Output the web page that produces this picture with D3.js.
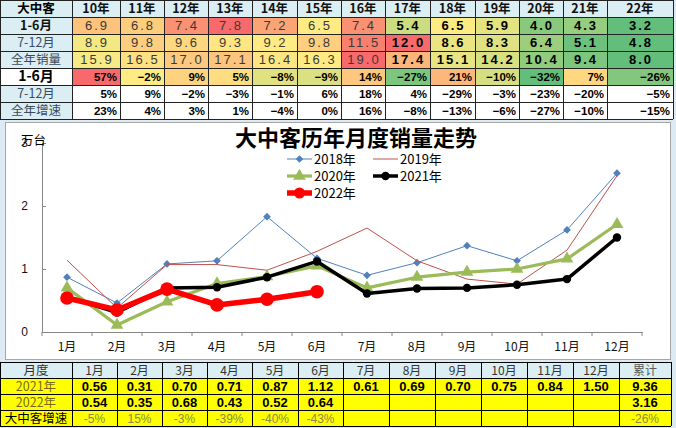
<!DOCTYPE html>
<html><head><meta charset="utf-8">
<script src="https://cdn.jsdelivr.net/npm/d3@7"></script>
<style>
html,body{margin:0;padding:0;background:#DCEAF4;}
svg{display:block;}
</style></head>
<body>
<svg id="c" width="676" height="428"></svg>
<script>
// ---------- DATA ----------
const years = ["10年","11年","12年","13年","14年","15年","16年","17年","18年","19年","20年","21年","22年"];
const h1Sales = [6.9,6.8,7.4,7.8,7.2,6.5,7.4,5.4,6.5,5.9,4.0,4.3,3.2];
const h2Sales = [8.9,9.8,9.6,9.3,9.2,9.8,11.5,12.0,8.6,8.3,6.4,5.1,4.8];
const fullSales = [15.9,16.5,17.0,17.1,16.4,16.3,19.0,17.4,15.1,14.2,10.4,9.4,8.0];
const h1Growth = [57,-2,9,5,-8,-9,14,-27,21,-10,-32,7,-26];
const h2Growth = [5,9,-2,-3,-1,6,18,4,-29,-3,-23,-20,-5];
const fullGrowth = [23,4,3,1,-4,0,16,-8,-13,-6,-27,-10,-15];

const months = ["1月","2月","3月","4月","5月","6月","7月","8月","9月","10月","11月","12月"];
const s2018 = [0.87,0.46,1.08,1.13,1.83,1.17,0.90,1.10,1.37,1.13,1.62,2.52];
const s2019 = [1.14,0.38,1.07,1.07,0.98,1.28,1.65,1.13,0.84,0.76,1.30,2.48];
const s2020 = [0.70,0.11,0.48,0.77,0.88,1.05,0.70,0.87,0.95,1.00,1.16,1.71];
const s2021 = [0.56,0.31,0.70,0.71,0.87,1.12,0.61,0.69,0.70,0.75,0.84,1.50];
const s2022 = [0.54,0.35,0.68,0.43,0.52,0.64];
const growth2022 = ["-5%","15%","-3%","-39%","-40%","-43%"];
const growthTotal = "-26%";
const yTicks = [0,1,2,3];

// ---------- SETUP ----------
const svg = d3.select("#c");
const CJK = "'Noto Sans CJK SC','Noto Sans',sans-serif";
const NUM = "'Liberation Sans',Arial,sans-serif";
const LB = "#DAEEF3";

// ---------- TOP TABLE ----------
const tCols = [0,72,120,164,208,252,297,341,385,430,475,519,563,607,673];
const tRows = [0,17,34,51,68,85,102,119];
const topG = svg.append("g");
function heat(vals){
  return d3.scaleLinear()
    .domain([d3.min(vals), d3.median(vals), d3.max(vals)])
    .range(["#63BE7B","#FFEB84","#F8696B"]);
}
const rowsTop = [
  {label:"1-6月", vals:h1Sales, heat:true, kind:"sale", lw:"bold", lsize:12.5, lcol:"#111", lbg:LB},
  {label:"7-12月", vals:h2Sales, heat:true, kind:"sale", lw:"normal", lsize:12.5, lcol:"#3B4B5E", lbg:LB},
  {label:"全年销量", vals:fullSales, heat:true, kind:"sale", lw:"normal", lsize:12.5, lcol:"#3B4B5E", lbg:LB},
  {label:"1-6月", vals:h1Growth, heat:true, kind:"pct", lw:"bold", lsize:14, lcol:"#000", lbg:"#fff"},
  {label:"7-12月", vals:h2Growth, heat:false, kind:"pct", lw:"normal", lsize:12.5, lcol:"#3B4B5E", lbg:LB},
  {label:"全年增速", vals:fullGrowth, heat:false, kind:"pct", lw:"normal", lsize:12.5, lcol:"#3B4B5E", lbg:LB}
];
topG.append("rect").attr("x",0).attr("y",0).attr("width",tCols[tCols.length-1]).attr("height",tRows[1]).attr("fill",LB);
topG.append("text").attr("x",tCols[1]/2).attr("y",13).attr("text-anchor","middle")
  .attr("font-family",CJK).attr("font-weight","bold").attr("font-size",12.5).attr("fill","#000").text("大中客");
years.forEach((yr,i)=>{
  topG.append("text").attr("x",(tCols[i+1]+tCols[i+2])/2).attr("y",13).attr("text-anchor","middle")
    .attr("font-family",CJK).attr("font-weight","bold").attr("font-size",12.5).attr("fill","#111").text(yr);
});
rowsTop.forEach((r,ri)=>{
  const y0 = tRows[ri+1], y1 = tRows[ri+2], h=y1-y0;
  const sc = r.heat ? heat(r.vals) : null;
  topG.append("rect").attr("x",0).attr("y",y0).attr("width",tCols[1]).attr("height",h).attr("fill",r.lbg);
  topG.append("text").attr("x",tCols[1]/2).attr("y",y0+h/2+4.5).attr("text-anchor","middle")
    .attr("font-family",CJK).attr("font-weight",r.lw).attr("font-size",r.lsize).attr("fill",r.lcol).text(r.label);
  r.vals.forEach((v,i)=>{
    const x0=tCols[i+1], x1=tCols[i+2];
    topG.append("rect").attr("x",x0).attr("y",y0).attr("width",x1-x0).attr("height",h)
      .attr("fill", sc ? sc(v) : "#fff");
    if(r.kind==="sale"){
      const bold = i>=7;
      topG.append("text").attr("x",(x0+x1)/2+1).attr("y",y0+h/2+4.5).attr("text-anchor","middle")
        .attr("font-family",NUM).attr("font-size",13).attr("letter-spacing","2px")
        .attr("font-weight",bold?"bold":"normal").attr("fill",bold?"#000":"#3a3a3a")
        .text(v.toFixed(1));
    } else {
      topG.append("text").attr("x",x1-3).attr("y",y0+h/2+4.5).attr("text-anchor","end")
        .attr("font-family",NUM).attr("font-size",11.5).attr("font-weight","bold").attr("fill","#000")
        .text((v<0?"−":"")+Math.abs(v)+"%");
    }
  });
});
tRows.forEach(yy=>topG.append("line").attr("x1",0).attr("x2",tCols[tCols.length-1]).attr("y1",yy+0.5).attr("y2",yy+0.5).attr("stroke","#222"));
tCols.forEach(xx=>topG.append("line").attr("x1",xx+0.5).attr("x2",xx+0.5).attr("y1",0).attr("y2",tRows[tRows.length-1]).attr("stroke","#222"));

// ---------- CHART ----------
svg.append("rect").attr("x",5.5).attr("y",122.5).attr("width",665).attr("height",237)
  .attr("fill","#fff").attr("stroke","#A6A6A6");

const x = d3.scaleBand().domain(months).range([42,642]);
const y = d3.scaleLinear().domain([0,3]).range([332,143]);
const cx = m => x(m)+x.bandwidth()/2;

const gx = svg.append("g").attr("transform","translate(0,332)")
  .call(d3.axisBottom(x).tickSize(0).tickPadding(10));
gx.select(".domain").attr("stroke","#868686");
gx.selectAll("text").attr("font-family",CJK).attr("font-size",12).attr("fill","#111");
d3.range(13).forEach(i=>{
  const xx = 42 + i*x.bandwidth();
  svg.append("line").attr("x1",xx).attr("x2",xx).attr("y1",332).attr("y2",336).attr("stroke","#868686");
});
const gy = svg.append("g").attr("transform","translate(42,0)")
  .call(d3.axisLeft(y).tickValues(yTicks).tickFormat(d3.format("d")).tickSize(-4).tickPadding(14));
gy.select(".domain").attr("stroke","#868686");
gy.selectAll(".tick line").attr("stroke","#868686");
gy.selectAll("text").attr("font-family",NUM).attr("font-size",12).attr("fill","#111");
svg.append("text").attr("x",21).attr("y",145).attr("font-family",CJK).attr("font-size",12.5).attr("fill","#000").text("万台");

svg.append("text").attr("x",356).attr("y",146).attr("text-anchor","middle")
  .attr("font-family",CJK).attr("font-weight","bold").attr("font-size",22).attr("fill","#000")
  .text("大中客历年月度销量走势");

const series = [
  {name:"2018年", data:s2018, color:"#4F81BD", w:1, marker:"diamond", ms:30},
  {name:"2019年", data:s2019, color:"#C0504D", w:1, marker:null},
  {name:"2020年", data:s2020, color:"#9BBB59", w:3.2, marker:"triangle", ms:70},
  {name:"2021年", data:s2021, color:"#000000", w:3.5, marker:"circle", ms:4.2},
  {name:"2022年", data:s2022, color:"#FF0000", w:5.5, marker:"circle", ms:6.8}
];
const line = d3.line().x(d=>cx(d.m)).y(d=>y(d.v));
function drawMarker(g, type, size, color, px, py){
  if(type==="circle"){
    g.append("circle").attr("cx",px).attr("cy",py).attr("r",size).attr("fill",color);
  } else if(type==="diamond"){
    g.append("path").attr("d",d3.symbol(d3.symbolSquare, size)())
      .attr("transform",`translate(${px},${py}) rotate(45)`).attr("fill",color);
  } else if(type==="triangle"){
    g.append("path").attr("d",d3.symbol(d3.symbolTriangle, size)())
      .attr("transform",`translate(${px},${py})`).attr("fill",color);
  }
}
series.forEach(s=>{
  const pts = s.data.map((v,i)=>({m:months[i], v}));
  const g = svg.append("g");
  g.append("path").attr("d",line(pts)).attr("fill","none").attr("stroke",s.color)
    .attr("stroke-width",s.w).attr("stroke-linejoin","round");
  if(s.marker) pts.forEach(p=>drawMarker(g,s.marker,s.ms,s.color,cx(p.m),y(p.v)));
});

const legPos = [[287,159],[373,159],[287,176],[373,176],[287,193]];
series.forEach((s,i)=>{
  const [lx,ly] = legPos[i];
  const g = svg.append("g");
  g.append("line").attr("x1",lx).attr("x2",lx+25).attr("y1",ly).attr("y2",ly)
    .attr("stroke",s.color).attr("stroke-width",s.w);
  if(s.marker){
    const sz = s.name==="2022年" ? 5.5 : s.ms;
    drawMarker(g,s.marker,sz,s.color,lx+12.5,ly);
  }
  g.append("text").attr("x",lx+27).attr("y",ly+5).attr("font-family",CJK).attr("font-size",13)
    .attr("fill","#000").text(s.name);
});

// ---------- BOTTOM TABLE ----------
const bCols = [0,72,117,162,207,252,298,343,389,435,481,527,573,619,671];
const bRows = [362,378,394,410,426];
const bt = svg.append("g");
const total21 = d3.sum(s2021), total22 = d3.sum(s2022);
const bData = [
  {label:"月度", cells:months.concat(["累计"]), bg:LB},
  {label:"2021年", cells:s2021.map(v=>v.toFixed(2)).concat([total21.toFixed(2)]), bg:"#FFFF00"},
  {label:"2022年", cells:months.map((m,i)=>i<s2022.length?s2022[i].toFixed(2):"").concat([total22.toFixed(2)]), bg:"#FFFF00"},
  {label:"大中客增速", cells:months.map((m,i)=>i<growth2022.length?growth2022[i]:"").concat([growthTotal]), bg:"#FFFF00"}
];
bData.forEach((r,ri)=>{
  const y0=bRows[ri], y1=bRows[ri+1], h=y1-y0;
  bt.append("rect").attr("x",0).attr("y",y0).attr("width",bCols[bCols.length-1]).attr("height",h).attr("fill",r.bg);
  const lcol = ri===0 ? "#333" : (ri===3 ? "#000" : "#7A6A20");
  bt.append("text").attr("x",bCols[1]/2).attr("y",y0+h/2+4.5).attr("text-anchor","middle")
    .attr("font-family",CJK).attr("font-size",12.5).attr("fill",lcol).text(r.label);
  r.cells.forEach((c,i)=>{
    const x0=bCols[i+1], x1=bCols[i+2];
    const t = bt.append("text").attr("x",(x0+x1)/2).attr("y",y0+h/2+4.5).attr("text-anchor","middle");
    if(ri===0){
      t.attr("font-family",CJK).attr("font-size",12).attr("fill", i===12?"#595959":"#333");
    } else if(ri===3){
      t.attr("font-family",NUM).attr("font-size",12).attr("fill","#8A8A4A");
    } else {
      t.attr("font-family",NUM).attr("font-size",13).attr("font-weight","bold").attr("fill","#000");
    }
    t.text(c);
  });
});
bRows.forEach(yy=>bt.append("line").attr("x1",0).attr("x2",bCols[bCols.length-1]).attr("y1",yy+0.5).attr("y2",yy+0.5).attr("stroke","#000"));
bCols.forEach(xx=>bt.append("line").attr("x1",xx+0.5).attr("x2",xx+0.5).attr("y1",bRows[0]).attr("y2",bRows[bRows.length-1]).attr("stroke","#000"));
</script>
</body></html>
